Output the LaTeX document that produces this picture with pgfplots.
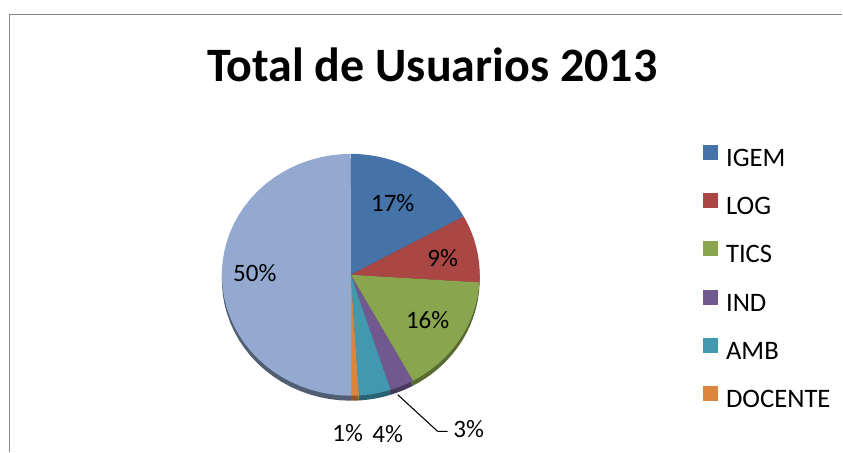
\documentclass[border=0pt]{standalone}
\usepackage{pgfplots}
\pgfplotsset{compat=1.18}
\usepackage{fontspec}
\setmainfont{Carlito}

\definecolor{cIGEM}{HTML}{4572A7}
\definecolor{cLOG}{HTML}{AA4643}
\definecolor{cTICS}{HTML}{89A54E}
\definecolor{cIND}{HTML}{71588F}
\definecolor{cAMB}{HTML}{4198AF}
\definecolor{cDOC}{HTML}{DB843D}
\definecolor{cOTRO}{HTML}{93A9CF}
\definecolor{frameGray}{HTML}{878787}

% pie geometry, in reference pixels (axis units)
\def\cx{351}\def\cy{177}\def\cyb{172}\def\rx{129}\def\ry{121}

\pgfplotsset{
  slice/.style={draw=none, samples=40, variable=\p},
  side/.style={draw=none, samples=40, variable=\p, forget plot},
}
\newcommand{\lbl}{\fontsize{18.8}{20}\selectfont}

\begin{document}
\begin{tikzpicture}
\begin{axis}[
    scale only axis,
    width=632.25pt, height=339pt,
    xmin=0, xmax=843, ymin=0, ymax=452,
    hide axis, clip=false,
    legend cell align=left,
    legend image code/.code={\fill[#1] (0pt,0.3pt) rectangle (11.25pt,11.55pt);},
    legend style={at={(axis cs:703.3,307)}, anchor=north west,
        draw=none, fill=none, inner sep=0pt,
        font=\fontsize{20}{22}\selectfont,
        row sep=17.1pt, column sep=6pt,
        nodes={inner sep=0pt, text height=12pt, text depth=3pt}},
]

% side of the tilted pie (cumulative percent ranges, drawn 5px lower)
\addplot[side, fill=cIGEM!65!black, domain=0:17] ({\cx+\rx*sin(3.6*\p)}, {\cyb+\ry*cos(3.6*\p)}) -- (axis cs:\cx,\cyb) -- cycle;
\addplot[side, fill=cLOG!65!black, domain=17:26] ({\cx+\rx*sin(3.6*\p)}, {\cyb+\ry*cos(3.6*\p)}) -- (axis cs:\cx,\cyb) -- cycle;
\addplot[side, fill=cTICS!65!black, domain=26:42] ({\cx+\rx*sin(3.6*\p)}, {\cyb+\ry*cos(3.6*\p)}) -- (axis cs:\cx,\cyb) -- cycle;
\addplot[side, fill=cIND!65!black, domain=42:45] ({\cx+\rx*sin(3.6*\p)}, {\cyb+\ry*cos(3.6*\p)}) -- (axis cs:\cx,\cyb) -- cycle;
\addplot[side, fill=cAMB!65!black, domain=45:49] ({\cx+\rx*sin(3.6*\p)}, {\cyb+\ry*cos(3.6*\p)}) -- (axis cs:\cx,\cyb) -- cycle;
\addplot[side, fill=cDOC!65!black, domain=49:50] ({\cx+\rx*sin(3.6*\p)}, {\cyb+\ry*cos(3.6*\p)}) -- (axis cs:\cx,\cyb) -- cycle;
\addplot[side, fill=cOTRO!55!black, domain=50:100] ({\cx+\rx*sin(3.6*\p)}, {\cyb+\ry*cos(3.6*\p)}) -- (axis cs:\cx,\cyb) -- cycle;

% top faces: IGEM 17, LOG 9, TICS 16, IND 3, AMB 4, DOCENTE 1, rest 50
\addplot[slice, fill=cIGEM, domain=0:17] ({\cx+\rx*sin(3.6*\p)}, {\cy+\ry*cos(3.6*\p)}) -- (axis cs:\cx,\cy) -- cycle;
\addlegendentry{IGEM}
\addplot[slice, fill=cLOG, domain=17:26] ({\cx+\rx*sin(3.6*\p)}, {\cy+\ry*cos(3.6*\p)}) -- (axis cs:\cx,\cy) -- cycle;
\addlegendentry{LOG}
\addplot[slice, fill=cTICS, domain=26:42] ({\cx+\rx*sin(3.6*\p)}, {\cy+\ry*cos(3.6*\p)}) -- (axis cs:\cx,\cy) -- cycle;
\addlegendentry{TICS}
\addplot[slice, fill=cIND, domain=42:45] ({\cx+\rx*sin(3.6*\p)}, {\cy+\ry*cos(3.6*\p)}) -- (axis cs:\cx,\cy) -- cycle;
\addlegendentry{IND}
\addplot[slice, fill=cAMB, domain=45:49] ({\cx+\rx*sin(3.6*\p)}, {\cy+\ry*cos(3.6*\p)}) -- (axis cs:\cx,\cy) -- cycle;
\addlegendentry{AMB}
\addplot[slice, fill=cDOC, domain=49:50] ({\cx+\rx*sin(3.6*\p)}, {\cy+\ry*cos(3.6*\p)}) -- (axis cs:\cx,\cy) -- cycle;
\addlegendentry{DOCENTE}
\addplot[slice, fill=cOTRO, domain=50:100, forget plot] ({\cx+\rx*sin(3.6*\p)}, {\cy+\ry*cos(3.6*\p)}) -- (axis cs:\cx,\cy) -- cycle;

% data labels
\node[font=\lbl] at (axis cs:393,249) {17\%};
\node[font=\lbl] at (axis cs:443,194) {9\%};
\node[font=\lbl] at (axis cs:428,132) {16\%};
\node[font=\lbl] at (axis cs:255,179) {50\%};
\node[font=\lbl] at (axis cs:348,19) {1\%};
\node[font=\lbl] at (axis cs:388,18) {4\%};
\node[font=\lbl] at (axis cs:469,23) {3\%};
\draw[black, line width=0.8pt] (axis cs:398,57) -- (axis cs:438,20.3) -- (axis cs:448,20.3);

% title and chart frame
\node[font=\bfseries\fontsize{36}{40}\selectfont, anchor=base] at (axis cs:432.5,370) {Total de Usuarios 2013};
\draw[frameGray, line width=0.9pt] (axis cs:9.7,0) -- (axis cs:9.7,437.7) -- (axis cs:843,437.7);
\path (axis cs:0,0) rectangle (axis cs:843,452);
\end{axis}
\end{tikzpicture}
\end{document}
